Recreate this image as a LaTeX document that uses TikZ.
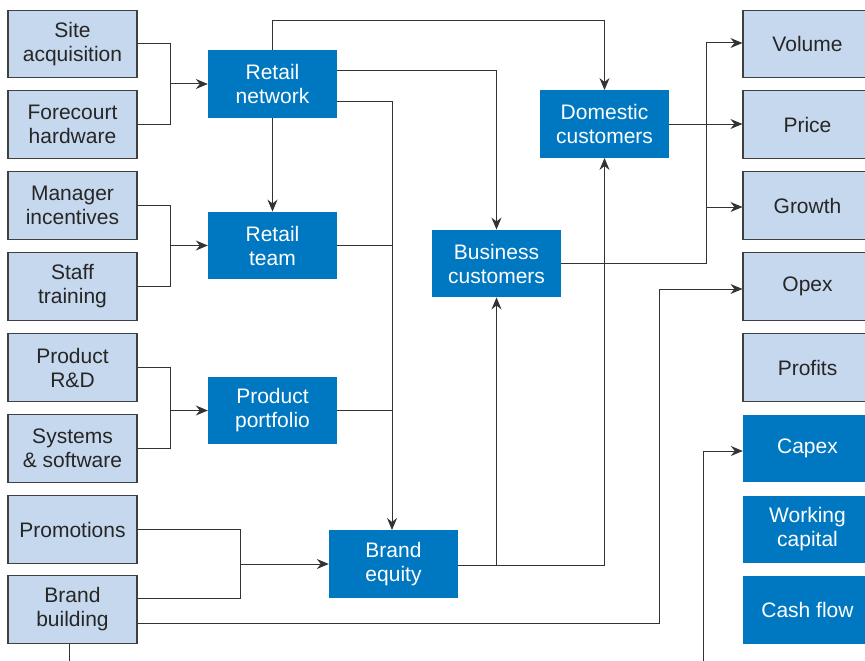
\documentclass[tikz,border=0pt]{standalone}
\usepackage{fontspec}
\setmainfont{Liberation Sans}
\usepackage{tikz}
\usetikzlibrary{positioning, arrows.meta}

\definecolor{driverfill}{HTML}{C6D8EE}
\definecolor{leverblue}{HTML}{0078C1}
\definecolor{linegray}{HTML}{333333}

\begin{document}
\begin{tikzpicture}[x=1pt, y=-1pt, >={Stealth[length=12pt,width=10pt,inset=4pt]},
  box/.style={minimum width=129pt, minimum height=67.5pt, inner sep=0pt, align=center,
    font=\fontsize{21}{24}\selectfont},
  driver/.style={box, draw=black!75, line width=1.1pt, fill=driverfill, text=black!85},
  lever/.style={box, fill=leverblue, text=white},
  link/.style={draw=linegray, line width=1pt}]
  \useasboundingbox (0,0) rectangle (865,661);
  \clip (0,0) rectangle (865,661);
  % Operational drivers
  \node[driver] (site)  at (72.5,44)    {Site\\acquisition};
  \node[driver] (fore)  at (72.5,124.5) {Forecourt\\hardware};
  \node[driver] (mgr)   at (72.5,205.5) {Manager\\incentives};
  \node[driver] (staff) at (72.5,286.5) {Staff\\training};
  \node[driver] (rnd)   at (72.5,367.5) {Product\\R\&D};
  \node[driver] (sys)   at (72.5,448.5) {Systems\\\& software};
  \node[driver] (promo) at (72.5,529.5) {Promotions};
  \node[driver] (brand) at (72.5,609.5) {Brand\\building};
  % Intermediate levers
  \node[lever] (net)  at (272.5,84)    {Retail\\network};
  \node[lever] (team) at (272.5,245.5) {Retail\\team};
  \node[lever] (port) at (272.5,410.5) {Product\\portfolio};
  \node[lever] (eq)   at (393.5,564)   {Brand\\equity};
  \node[lever] (bus)  at (496.5,263.5) {Business\\customers};
  \node[lever] (dom)  at (604.5,124)   {Domestic\\customers};
  % Value drivers
  \node[driver] (vol)    at (807.5,44)    {Volume};
  \node[driver] (price)  at (807.5,124.5) {Price};
  \node[driver] (growth) at (807.5,205.5) {Growth};
  \node[driver] (opex)   at (807.5,286.5) {Opex};
  \node[driver] (profit) at (807.5,367.5) {Profits};
  \node[lever]  (capex)  at (807.5,448.5) {Capex};
  \node[lever]  (wcap)   at (807.5,529.5) {Working\\capital};
  \node[lever]  (cash)   at (807.5,610)   {Cash flow};
  % Spine into brand equity, loose ends below
  \coordinate (spine) at (392,530);
  \coordinate (bbout) at (69,670);
  \coordinate (cxin)  at (703,670);

  % Pairs of drivers into levers
  \foreach \a/\b/\c in {site/fore/net, mgr/staff/team, rnd/sys/port} {
    \draw[link] (\a.east) -| ([xshift=-37pt]\c.west) |- (\b.east);
    \draw[link,->] ([xshift=-37pt]\c.west) -- (\c.west);
  }
  \draw[link] (promo.east) -| ([xshift=-88pt]eq.west) |- ([yshift=11.5pt]brand.east);
  \draw[link,->] ([xshift=-88pt]eq.west) -- (eq.west);
  % Retail network outputs
  \draw[link,->] (net.south) -- (team.north);
  \draw[link,->] (net.north) |- ([yshift=70pt]dom.north) -- (dom.north);
  \draw[link,->] ([yshift=13pt]net.east) -| (bus.north);
  \draw[link,->] ([yshift=-17pt]net.east) -| (spine);
  \draw[link] (team.east) -- (team.east -| spine);
  \draw[link] (port.east) -- (port.east -| spine);
  % Brand equity into customers
  \draw[link,->] ([yshift=-1pt]eq.east) -| (bus.south);
  \draw[link,->] ([yshift=-1pt]eq.east) -| (dom.south);
  % Customers into value
  \draw[link,->] (dom.east) -- (dom.east -| price.west);
  \draw[link,->] (bus.east) -| ([xshift=-36pt,yshift=1pt]vol.west) -- ([yshift=1pt]vol.west);
  \draw[link,->] ([xshift=-36pt,yshift=-1.5pt]growth.west) -- ([yshift=-1.5pt]growth.west);
  % Brand building and capex links
  \draw[link,->] ([yshift=-13.5pt]brand.east) -| ([xshift=-83pt,yshift=-2.5pt]opex.west) -- ([yshift=-2.5pt]opex.west);
  \draw[link] ([xshift=-3.5pt]brand.south) -- (bbout);
  \draw[link,->] (cxin) |- ([yshift=-2.5pt]capex.west);
\end{tikzpicture}
\end{document}
